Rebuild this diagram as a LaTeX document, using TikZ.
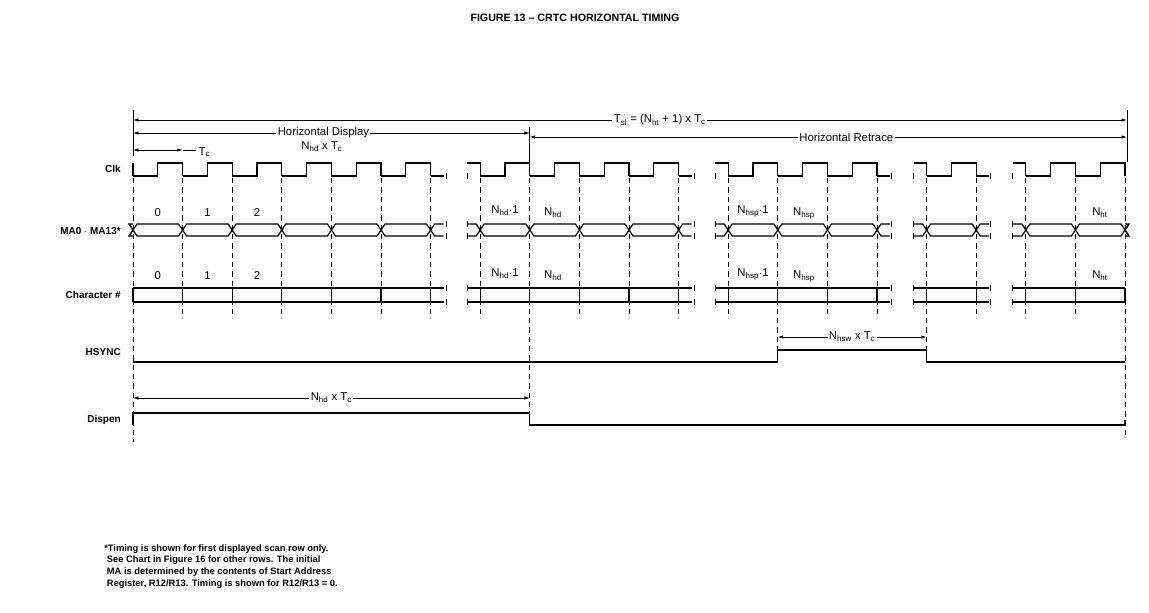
\documentclass[tikz,border=0pt]{standalone}
\usepackage{fontspec}
\setmainfont{Liberation Sans}
\usetikzlibrary{arrows.meta}
\newcommand\sub[1]{\textsubscript{#1}}
\newcommand\segment[4]{%
 \pgfmathsetmacro\xs{133+49.6*#1}%
 \pgfmathsetmacro\xe{133+49.6*(#2+1)}%
 \draw[sig] (\xs-#3,163)--(\xs,163)--(\xs,176);
 \foreach \k in {#1,...,#2}{%
   \pgfmathsetmacro\xx{133+49.6*\k}%
   \draw[sig] (\xx,176)--(\xx+24.8,176)--(\xx+24.8,163)--(\xx+49.6,163)--(\xx+49.6,176);
   \draw[sig] (\xx,230)--(\xx+4,224)--(\xx+45.6,224)--(\xx+49.6,230)--(\xx+45.6,236)--(\xx+4,236)--cycle;
 }
 \pgfmathsetmacro\xt{\xe+#4}%
 \pgfmathsetmacro\xh{\xs-#3}%
 \draw[sig] (\xe,176)--(\xt,176);
 \draw[sig] (\xh,224)--(\xs-4,224)--(\xs,230)--(\xs-4,236)--(\xh,236);
 \draw[sig] (\xt,224)--(\xe+4,224)--(\xe,230)--(\xe+4,236)--(\xt,236);
 \draw[sig] (\xh,288)--(\xt,288) (\xh,302)--(\xt,302);
 \foreach \k in {#1,...,\the\numexpr#2+1\relax}{%
   \pgfmathsetmacro\xx{133+49.6*\k}%
   \draw[sig] (\xx,288)--(\xx,302);
 }
}
\tikzset{
 sig/.style={line width=0.9pt,line join=miter},
 tick/.style={line width=0.6pt},
 guide/.style={dash pattern=on 4pt off 3pt,line width=0.5pt},
 dim/.style={line width=0.5pt,{Latex[length=4pt,width=2.5pt]}-{Latex[length=4pt,width=2.5pt]}},
 lab/.style={font=\fontsize{8.5}{10}\selectfont,inner sep=1pt},
 sidelab/.style={font=\bfseries\fontsize{7.5}{9}\selectfont,anchor=east,inner sep=0pt},
}
\begin{document}
\begin{tikzpicture}[x=0.75pt,y=-0.75pt]
\useasboundingbox (0,0) rectangle (1149,613);
\node[font=\bfseries\fontsize{8}{10}\selectfont] (title) at (575,18) {FIGURE 13 -- CRTC HORIZONTAL TIMING};
% guides
\foreach \k in {1,...,7,9,10,11,12,14,15,17,18,19}{%
  \pgfmathsetmacro\xx{133+49.6*\k}%
  \draw[guide] (\xx,178)--(\xx,318);
}
\draw[guide] (133,178)--(133,442);
\draw[guide] (529.8,178)--(529.8,430);
\draw[guide] (777.8,178)--(777.8,350);
\draw[guide] (926.6,178)--(926.6,362);
\draw[guide] (1125,178)--(1125,437);
\draw[tick] (133,110)--(133,156);
\draw[tick] (529.8,127)--(529.8,162);
\draw[tick] (1127,110)--(1127,162);
% dimension arrows
\draw[dim] (133,120)--(1127,120) node[pos=0.53,fill=white,lab] (tsl) {T\sub{sl} = (N\sub{ht} + 1) x T\sub{c}};
\draw[dim] (133,133)--(529.8,133) node[pos=0.48,fill=white,lab] (hd) {Horizontal Display};
\node[lab] (hdn) at (322,147) {N\sub{hd} x T\sub{c}};
\draw[dim] (529.8,137)--(1127,137) node[pos=0.53,fill=white,lab] (hr) {Horizontal Retrace};
\draw[dim] (133,150)--(182.6,150);
\draw[tick] (182.6,150)--(196,150);
\node[lab,anchor=west] (tc) at (197,152) {T\sub{c}};
% waveforms
\segment{0}{5}{0}{13}
\segment{7}{10}{13}{13}
\segment{12}{14}{13}{13}
\segment{16}{16}{13}{13}
\segment{18}{19}{13}{0}
\draw[sig] (133,230)--(129,224) (133,230)--(129,236);
\draw[sig] (1125,230)--(1129,224) (1125,230)--(1129,236);
\draw[sig] (1125,288)--(1125,302);
% ticks at breaks
\foreach \xx in {446,467,694,715,891,913,990,1012}{%
  \draw[tick] (\xx,173)--(\xx,179) (\xx,221)--(\xx,227) (\xx,233)--(\xx,239) (\xx,285)--(\xx,291) (\xx,299)--(\xx,305);
}
% labels
\foreach \k/\t in {0/0,1/1,2/2}{%
  \pgfmathsetmacro\xx{133+49.6*\k+24.8}%
  \node[lab] (ma\k) at (\xx,213) {\t};
  \node[lab] (ch\k) at (\xx,276) {\t};
}
\node[lab] (mahd1) at (505,211) {N\sub{hd}$\cdot$1};
\node[lab] (mahd) at (553,213) {N\sub{hd}};
\node[lab] (mahsp1) at (753,211) {N\sub{hsp}$\cdot$1};
\node[lab] (mahsp) at (804,213) {N\sub{hsp}};
\node[lab] (maht) at (1100,213) {N\sub{ht}};
\node[lab] (chhd1) at (505,274) {N\sub{hd}$\cdot$1};
\node[lab] (chhd) at (553,276) {N\sub{hd}};
\node[lab] (chhsp1) at (753,274) {N\sub{hsp}$\cdot$1};
\node[lab] (chhsp) at (804,276) {N\sub{hsp}};
\node[lab] (chht) at (1100,276) {N\sub{ht}};
% HSYNC
\draw[sig] (133,362)--(777.8,362)--(777.8,350)--(926.6,350)--(926.6,362)--(1125,362);
\draw[dim] (777.8,337)--(926.6,337) node[midway,fill=white,lab] (hsw) {N\sub{hsw} x T\sub{c}};
% Dispen
\draw[sig] (133,425)--(133,413)--(529.8,413)--(529.8,425)--(1125,425)--(1125,420);
\draw[dim] (133,398)--(529.8,398) node[midway,fill=white,lab] (dhd) {N\sub{hd} x T\sub{c}};
% side labels
\node[sidelab] (lclk) at (121,169) {Clk};
\node[sidelab] (lma) at (121,231) {MA0 $\cdot$ MA13*};
\node[sidelab] (lch) at (121,295) {Character \#};
\node[sidelab] (lhs) at (121,352) {HSYNC};
\node[sidelab] (ldp) at (121,420) {Dispen};
% footnote
\node[anchor=north west,align=left,font=\bfseries\fontsize{7}{8.9}\selectfont,inner sep=0pt] (note) at (104,544) {*Timing is shown for first displayed scan row only.\\
\hspace*{2pt}See Chart in Figure 16 for other rows. The initial\\
\hspace*{2pt}MA is determined by the contents of Start Address\\
\hspace*{2pt}Register, R12/R13. Timing is shown for R12/R13 = 0.};
\end{tikzpicture}
\end{document}
